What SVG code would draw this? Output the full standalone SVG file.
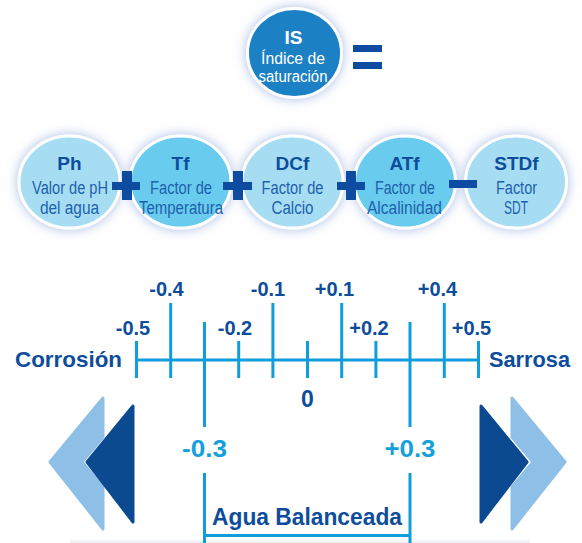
<svg xmlns="http://www.w3.org/2000/svg" width="582" height="543" viewBox="0 0 582 543">
<defs>
<filter id="glow" x="-40%" y="-40%" width="180%" height="180%">
<feGaussianBlur in="SourceAlpha" stdDeviation="6" result="b"/>
<feFlood flood-color="#6d8ed2" flood-opacity="0.6"/>
<feComposite in2="b" operator="in"/>
<feMerge><feMergeNode/><feMergeNode in="SourceGraphic"/></feMerge>
</filter>
<linearGradient id="shadow" x1="0" y1="0" x2="0" y2="1">
<stop offset="0" stop-color="#ffffff"/>
<stop offset="1" stop-color="#eceef2"/>
</linearGradient>
</defs>
<style>
.light{fill:#a6ddf3;stroke:#fff;stroke-width:3}
.mid{fill:#69cbee;stroke:#fff;stroke-width:3}
.title{font-family:"Liberation Sans",Arial,sans-serif;font-weight:bold;font-size:19px;fill:#0d4d9b;text-anchor:middle}
.sub{font-family:"Liberation Sans",Arial,sans-serif;font-size:18px;fill:#1d62ad;text-anchor:middle}
.wsub{font-family:"Liberation Sans",Arial,sans-serif;font-size:16px;fill:#fff;text-anchor:middle}
.op{fill:#0d4ca0}
.tick{stroke:#0f9edb;stroke-width:3;fill:none}
.lbl{font-family:"Liberation Sans",Arial,sans-serif;font-weight:bold;font-size:20px;fill:#0d4d9b;text-anchor:middle}
.big{font-family:"Liberation Sans",Arial,sans-serif;font-weight:bold;font-size:22px;fill:#0d4d9b}
.cy{font-family:"Liberation Sans",Arial,sans-serif;font-weight:bold;font-size:24px;fill:#14a0dc;text-anchor:middle}
</style>
<rect width="582" height="543" fill="#fff"/>
<rect x="70" y="538" width="460" height="5" fill="url(#shadow)"/>

<g id="is">
<ellipse cx="294.5" cy="53" rx="47" ry="44.5" fill="#1a80c5" stroke="#fff" stroke-width="3" filter="url(#glow)"/>
<text class="title" x="293.5" y="44" style="fill:#fff">IS</text>
<text class="wsub" x="293" y="64" textLength="64" lengthAdjust="spacingAndGlyphs">Índice de</text>
<text class="wsub" x="293" y="82" textLength="69" lengthAdjust="spacingAndGlyphs">saturación</text>
</g>

<g id="ph">
<ellipse class="light" cx="69.5" cy="182" rx="50.5" ry="46" filter="url(#glow)"/>
<text class="title" x="69.5" y="170">Ph</text>
<text class="sub" x="70" y="194" textLength="76" lengthAdjust="spacingAndGlyphs">Valor de pH</text>
<text class="sub" x="69.5" y="214" textLength="59" lengthAdjust="spacingAndGlyphs">del agua</text>
</g>

<g id="tf">
<ellipse class="mid" cx="180.5" cy="182" rx="50.5" ry="46" filter="url(#glow)"/>
<text class="title" x="180.5" y="170">Tf</text>
<text class="sub" x="181" y="194" textLength="62" lengthAdjust="spacingAndGlyphs">Factor de</text>
<text class="sub" x="181" y="214" textLength="84" lengthAdjust="spacingAndGlyphs">Temperatura</text>
</g>

<g id="dcf">
<ellipse class="light" cx="292.5" cy="182" rx="50.5" ry="46" filter="url(#glow)"/>
<text class="title" x="292.5" y="170">DCf</text>
<text class="sub" x="292.5" y="194" textLength="62" lengthAdjust="spacingAndGlyphs">Factor de</text>
<text class="sub" x="292.5" y="214" textLength="42" lengthAdjust="spacingAndGlyphs">Calcio</text>
</g>

<g id="atf">
<ellipse class="mid" cx="405" cy="182" rx="50.5" ry="46" filter="url(#glow)"/>
<text class="title" x="404.5" y="170">ATf</text>
<text class="sub" x="405" y="194" textLength="60" lengthAdjust="spacingAndGlyphs">Factor de</text>
<text class="sub" x="404.5" y="214" textLength="75" lengthAdjust="spacingAndGlyphs">Alcalinidad</text>
</g>

<g id="stdf">
<ellipse class="light" cx="516" cy="182" rx="50.5" ry="46" filter="url(#glow)"/>
<text class="title" x="516.5" y="170">STDf</text>
<text class="sub" x="516.5" y="194" textLength="41" lengthAdjust="spacingAndGlyphs">Factor</text>
<text class="sub" x="516" y="214" textLength="24" lengthAdjust="spacingAndGlyphs">SDT</text>
</g>

<g id="operators" class="op">
<rect x="353" y="45" width="29" height="7"/>
<rect x="353" y="62" width="29" height="7"/>
<rect x="112" y="182" width="28" height="8"/>
<rect x="122" y="171" width="10" height="29"/>
<rect x="223" y="182" width="29" height="8"/>
<rect x="233" y="171" width="10" height="29"/>
<rect x="337" y="182" width="28" height="8"/>
<rect x="346" y="171" width="10" height="29"/>
<rect x="449" y="180" width="28" height="8"/>
</g>

<g id="scale">
<path class="tick" d="M136.5 360H478.5
M136.5 341V378 M170.7 303V378 M204.5 322V427 M204.5 473V543 M238.7 341V378 M272.9 303V378
M307.5 341V378 M341.7 303V378 M375.9 341V378 M410 322V427 M410 473V543 M444.3 303V378 M478.5 341V378
M204.5 535.5H410"/>
<text class="lbl" x="166.5" y="296">-0.4</text>
<text class="lbl" x="268" y="296">-0.1</text>
<text class="lbl" x="334.5" y="296">+0.1</text>
<text class="lbl" x="437.5" y="296">+0.4</text>
<text class="lbl" x="133" y="335">-0.5</text>
<text class="lbl" x="235" y="335">-0.2</text>
<text class="lbl" x="369" y="335">+0.2</text>
<text class="lbl" x="471.5" y="335">+0.5</text>
<text class="lbl" x="307.5" y="407" style="font-size:23px">0</text>
<text class="big" x="15" y="367" textLength="107" lengthAdjust="spacingAndGlyphs">Corrosión</text>
<text class="big" x="489" y="367" textLength="81" lengthAdjust="spacingAndGlyphs">Sarrosa</text>
<text class="cy" x="204.5" y="457" textLength="45" lengthAdjust="spacingAndGlyphs">-0.3</text>
<text class="cy" x="410" y="457" textLength="51" lengthAdjust="spacingAndGlyphs">+0.3</text>
<text class="big" x="212" y="525" style="font-size:23px" textLength="190" lengthAdjust="spacingAndGlyphs">Agua Balanceada</text>
</g>

<g id="arrows" stroke-linejoin="round" stroke-width="3">
<polygon points="103,398 50,462 103,529 103,487 82,462 103,437" fill="#8dbfe7" stroke="#8dbfe7"/>
<polygon points="133,406 87,462 133,522" fill="#0b4a91" stroke="#0b4a91"/>
<polygon points="512,398 565,462 512,529 512,487 533,462 512,437" fill="#8dbfe7" stroke="#8dbfe7"/>
<polygon points="481,406 527,462 481,522" fill="#0b4a91" stroke="#0b4a91"/>
</g>
</svg>
